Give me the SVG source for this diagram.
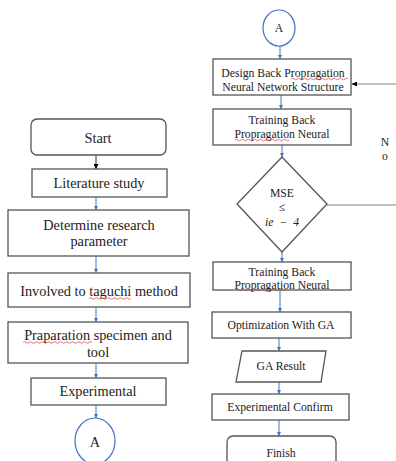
<svg xmlns="http://www.w3.org/2000/svg" width="396" height="461" viewBox="0 0 396 461" font-family="Liberation Serif, DejaVu Serif, serif">
<defs>
<marker id="ab" viewBox="0 0 10 10" refX="10" refY="5" markerWidth="4.5" markerHeight="4.5" orient="auto"><path d="M0,0 L10,5 L0,10 z" fill="#4472C4"/></marker>
<marker id="ak" viewBox="0 0 10 10" refX="10" refY="5" markerWidth="5" markerHeight="5" orient="auto"><path d="M0,0 L10,5 L0,10 z" fill="#000"/></marker>
</defs>
<style>
.box{fill:#fff;stroke:#555;stroke-width:1.3}
.circ{fill:#fff;stroke:#4472C4;stroke-width:1.2}
.t{font-size:14.3px;fill:#222;text-anchor:middle}
.s{font-size:11.7px;fill:#222;text-anchor:middle}
.c{stroke:#4472C4;stroke-width:1;fill:none;marker-end:url(#ab)}
.g{stroke:#aaa;stroke-width:1.5;fill:none}
.sq{stroke:#e03030;stroke-width:0.7;fill:none}
</style>
<g id="connectors">
<line x1="96" y1="155" x2="96" y2="169" stroke="#333" stroke-width="1" marker-end="url(#ak)"/>
<line class="c" x1="96" y1="197" x2="96" y2="210"/>
<line class="c" x1="96" y1="256" x2="96" y2="273"/>
<line class="c" x1="96" y1="307" x2="96" y2="322"/>
<line class="c" x1="96" y1="363" x2="96" y2="378"/>
<line class="c" x1="96" y1="405" x2="96" y2="418"/>
<line class="c" x1="280" y1="46" x2="280" y2="59"/>
<line class="c" x1="281" y1="95" x2="281" y2="109"/>
<line class="c" x1="282" y1="145" x2="282" y2="157"/>
<line class="c" x1="282" y1="252" x2="282" y2="262"/>
<line class="c" x1="280" y1="290" x2="280" y2="312"/>
<line class="c" x1="279" y1="338" x2="279" y2="351"/>
<line class="c" x1="279" y1="382" x2="279" y2="394"/>
<line class="c" x1="279" y1="420" x2="279" y2="436"/>
<line class="g" x1="396" y1="84" x2="356" y2="84"/>
<line x1="357" y1="84" x2="352" y2="84" stroke="#000" stroke-width="1" marker-end="url(#ak)"/>
<line class="g" x1="327" y1="205" x2="396" y2="205"/>
<text class="s" x="385" y="146">N</text>
<text class="s" x="385" y="160">o</text>
</g>
<g id="start"><rect class="box" x="31" y="119" width="135" height="36" rx="6"/><text class="t" x="98" y="143">Start</text></g>
<g id="literature"><rect class="box" x="32" y="169" width="135" height="28"/><text class="t" x="99" y="188">Literature study</text></g>
<g id="determine"><rect class="box" x="8" y="210" width="181" height="46"/><text class="t" x="99" y="230">Determine research</text><text class="t" x="99" y="246">parameter</text></g>
<g id="involved"><rect class="box" x="8" y="273" width="182" height="34"/><text class="t" x="99" y="296">Involved to taguchi method</text><path class="sq" d="M89,298.5 q1.5,-1.5 3,0 t3,0 t3,0 t3,0 t3,0 t3,0 t3,0 t3,0 t3,0 t3,0 t3,0 t3,0 t3,0 t3,0"/></g>
<g id="preparation"><rect class="box" x="8" y="322" width="180" height="41"/><text class="t" x="98" y="340">Praparation specimen and</text><text class="t" x="98" y="357">tool</text><path class="sq" d="M23,342.5 q1.5,-1.5 3,0 t3,0 t3,0 t3,0 t3,0 t3,0 t3,0 t3,0 t3,0 t3,0 t3,0 t3,0 t3,0 t3,0 t3,0 t3,0 t3,0 t3,0 t3,0 t3,0 t3,0 t3,0 t3,0"/></g>
<g id="experimental"><rect class="box" x="31" y="378" width="135" height="27"/><text class="t" x="98" y="396">Experimental</text></g>
<g id="connA1"><ellipse class="circ" cx="95" cy="441" rx="20" ry="23"/><text class="t" x="95" y="447">A</text></g>
<g id="connA2"><ellipse class="circ" cx="279" cy="28" rx="16" ry="18"/><text class="s" x="279" y="32">A</text></g>
<g id="design"><rect class="box" x="213" y="59" width="138" height="36"/><text class="s" x="283" y="77">Design  Back Propragation</text><text class="s" x="283" y="91">Neural Network  Structure</text><path class="sq" d="M291,79 q1.5,-1.5 3,0 t3,0 t3,0 t3,0 t3,0 t3,0 t3,0 t3,0 t3,0 t3,0 t3,0 t3,0 t3,0 t3,0 t3,0 t3,0 t3,0 t3,0 t3,0"/></g>
<g id="training1"><rect class="box" x="213" y="109" width="138" height="36"/><text class="s" x="282" y="124">Training Back</text><text class="s" x="282" y="138">Propragation Neural</text><path class="sq" d="M235,140 q1.5,-1.5 3,0 t3,0 t3,0 t3,0 t3,0 t3,0 t3,0 t3,0 t3,0 t3,0 t3,0 t3,0 t3,0 t3,0 t3,0 t3,0 t3,0 t3,0"/></g>
<g id="decision"><polygon class="box" points="282,157 327,204 282,252 237,204"/><text class="s" x="282" y="197">MSE</text><text class="s" x="282" y="211">≤</text><text class="s" x="282" y="226" font-style="italic" word-spacing="3">ie − 4</text></g>
<g id="training2"><rect class="box" x="213" y="262" width="138" height="28"/><text class="s" x="282" y="275.5" font-size="11">Training Back</text><text class="s" x="282" y="288.5" font-size="11">Propragation Neural</text><path class="sq" d="M236,290 q1.5,-1.5 3,0 t3,0 t3,0 t3,0 t3,0 t3,0 t3,0 t3,0 t3,0 t3,0 t3,0 t3,0 t3,0 t3,0 t3,0 t3,0 t3,0"/></g>
<g id="optimization"><rect class="box" x="212" y="312" width="139" height="26"/><text class="s" x="281" y="329">Optimization With GA</text></g>
<g id="result"><polygon class="box" points="242,351 326,351 321,382 236,382"/><text class="s" x="281" y="370">GA Result</text></g>
<g id="confirm"><rect class="box" x="212" y="394" width="137" height="26"/><text class="s" x="280" y="411">Experimental Confirm</text></g>
<g id="finish"><rect class="box" x="227" y="436" width="109" height="40" rx="6"/><text class="s" x="281" y="457">Finish</text></g>
</svg>
